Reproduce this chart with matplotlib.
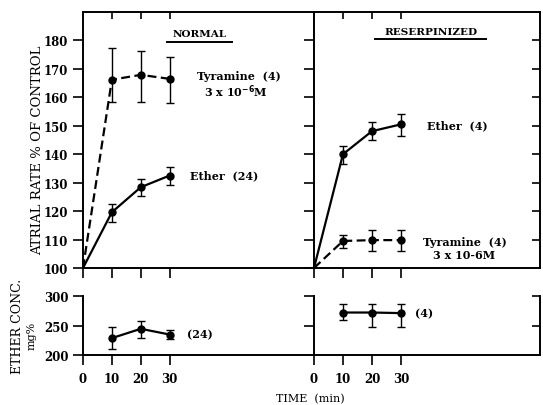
import numpy as np
import matplotlib
matplotlib.use("Agg")
import matplotlib.pyplot as plt

# time points (min)
t_rate = [0, 10, 20, 30]
t_conc = [10, 20, 30]

# NORMAL, atrial rate (% of control)
norm_tyr = [100, 166.2, 167.9, 166.5]
norm_tyr_lo = [0, 8.0, 9.4, 8.4]
norm_tyr_hi = [0, 11.3, 8.4, 7.8]
norm_eth = [100, 119.6, 128.4, 132.5]
norm_eth_lo = [0, 3.3, 3.1, 3.3]
norm_eth_hi = [0, 3.0, 2.9, 2.9]

# RESERPINIZED, atrial rate (% of control)
res_eth = [100, 140.0, 148.1, 150.5]
res_eth_lo = [0, 3.3, 3.2, 4.2]
res_eth_hi = [0, 3.0, 3.3, 3.5]
res_tyr = [100, 109.5, 109.8, 109.8]
res_tyr_lo = [0, 2.3, 3.8, 3.8]
res_tyr_hi = [0, 2.0, 3.5, 3.7]

# ether concentration (mg%)
norm_conc = [228.6, 244.4, 234.7]
norm_conc_lo = [19.2, 15.2, 7.2]
norm_conc_hi = [19.7, 12.4, 8.0]
res_conc = [272, 272, 271]
res_conc_lo = [13, 24, 23]
res_conc_hi = [14, 15, 16]

rate_ticks = [100, 110, 120, 130, 140, 150, 160, 170, 180]
conc_ticks = [200, 250, 300]
time_ticks = [0, 10, 20, 30]

plt.rcParams['font.family'] = ['DejaVu Serif']
plt.rcParams['axes.linewidth'] = 1.4

fig = plt.figure(figsize=(5.43, 4.06), dpi=100)
W, H = 543.0, 406.0

def box(x0, x1, ytop, ybot):
  return [x0 / W, 1 - ybot / H, (x1 - x0) / W, (ybot - ytop) / H]

axTL = fig.add_axes(box(83, 314, 13, 269))
axTR = fig.add_axes(box(314, 540, 13, 269))
axBL = fig.add_axes(box(83, 314, 297, 356))
axBR = fig.add_axes(box(314, 540, 297, 356))

lw = 1.6
ekw = dict(ecolor="k", elinewidth=1.0, capsize=3, capthick=1.0)

def draw(ax, x, y, lo, hi, ls):
  if ls == "--":
    ax.plot(x, y, color="k", lw=lw, linestyle="--", dashes=(4, 2))
  else:
    ax.plot(x, y, color="k", lw=lw)
  ax.errorbar(x[1:], y[1:], yerr=[lo[1:], hi[1:]], fmt="o", color="k", ms=5, **ekw)

def draw_plain(ax, x, y, lo, hi):
  ax.plot(x, y, color="k", lw=lw)
  ax.errorbar(x, y, yerr=[lo, hi], fmt="o", color="k", ms=5, **ekw)

draw(axTL, t_rate, norm_tyr, norm_tyr_lo, norm_tyr_hi, "--")
draw(axTL, t_rate, norm_eth, norm_eth_lo, norm_eth_hi, "-")
draw(axTR, t_rate, res_eth, res_eth_lo, res_eth_hi, "-")
draw(axTR, t_rate, res_tyr, res_tyr_lo, res_tyr_hi, "--")
draw_plain(axBL, t_conc, norm_conc, norm_conc_lo, norm_conc_hi)
draw_plain(axBR, t_conc, res_conc, res_conc_lo, res_conc_hi)

for ax in (axTL, axTR):
  xmax = 80 if ax is axTL else 78
  ax.set_xlim(0, xmax)
  ax.set_ylim(100, 190)
  ax.set_yticks(rate_ticks)
  ax.tick_params(axis="y", direction="out", length=7, width=1.2, right=False)
  ax.set_xticks(time_ticks)
  ax.tick_params(axis="x", direction="out", length=7, width=1.2, labelbottom=False)
  # short inward ticks along the top edge
  top = ax.twiny()
  top.set_xlim(0, xmax)
  top.set_xticks([10, 20, 30])
  top.tick_params(axis="x", direction="in", length=5, width=1.2, labeltop=False)
  for s in top.spines.values():
    s.set_visible(False)

axTL.set_yticklabels([str(v) for v in rate_ticks], fontsize=8.5, fontweight="bold")
axTR.set_yticklabels([])
# inward ticks on the right edge of the reserpinized panel
rt = axTR.twinx()
rt.set_ylim(100, 190)
rt.set_yticks(rate_ticks[1:])
rt.tick_params(axis="y", direction="in", length=6, width=1.2, labelright=False)
for s in rt.spines.values():
  s.set_visible(False)

for ax in (axBL, axBR):
  ax.set_ylim(200, 300)
  ax.set_xlim(0, 80 if ax is axBL else 78)
  ax.spines["top"].set_visible(False)
  ax.set_xticks(time_ticks)
  ax.set_xticklabels([str(v) for v in time_ticks], fontsize=8.5, fontweight="bold")
  ax.tick_params(axis="x", direction="out", length=7, width=1.2, pad=5)
  ax.set_yticks(conc_ticks)
  ax.tick_params(axis="y", direction="out", length=7, width=1.2)

axBL.spines["right"].set_visible(False)
axBL.set_yticklabels([str(v) for v in conc_ticks], fontsize=8.5, fontweight="bold")
axBR.set_yticks([250, 300])
axBR.set_yticklabels([])
rb = axBR.twinx()
rb.set_ylim(200, 300)
rb.set_yticks([250, 300])
rb.tick_params(axis="y", direction="in", length=6, width=1.2, labelright=False)
for s in rb.spines.values():
  s.set_visible(False)

# titles and annotations
tkw = dict(fontsize=7.5, fontweight="bold")
axTL.text(40.5, 182.3, "NORMAL", ha="center", va="center", **tkw)
axTL.plot([29, 51.5], [179.6, 179.6], color="k", lw=1.4, clip_on=False)
axTR.text(40.3, 183.2, "RESERPINIZED", ha="center", va="center", **tkw)
axTR.plot([21, 59.5], [180.5, 180.5], color="k", lw=1.4, clip_on=False)

lkw = dict(fontsize=8, fontweight="bold", va="center")
axTL.text(39.5, 167.5, "Tyramine  (4)", **lkw)
axTL.text(42, 162.5, r"3 x 10$^{\mathbf{-6}}$M", **lkw)
axTL.text(37, 132.8, "Ether  (24)", **lkw)
axTR.text(39, 150.5, "Ether  (4)", **lkw)
axTR.text(37.5, 109.3, "Tyramine  (4)", **lkw)
axTR.text(41, 104.8, "3 x 10-6M", **lkw)
axBL.text(36, 236, "(24)", **lkw)
axBR.text(35, 272, "(4)", **lkw)

fig.text(38 / W, 1 - 150 / H, "ATRIAL RATE % OF CONTROL", rotation=90,
         ha="center", va="center", fontsize=9.5)
fig.text(18 / W, 1 - 326 / H, "ETHER CONC.", rotation=90,
         ha="center", va="center", fontsize=9)
fig.text(32 / W, 1 - 336 / H, "mg%", rotation=90,
         ha="center", va="center", fontsize=8)
fig.text(310 / W, 1 - 394 / H, "TIME  (min)", ha="center", va="top",
         fontsize=8)

fig.savefig("out.png", dpi=100)
